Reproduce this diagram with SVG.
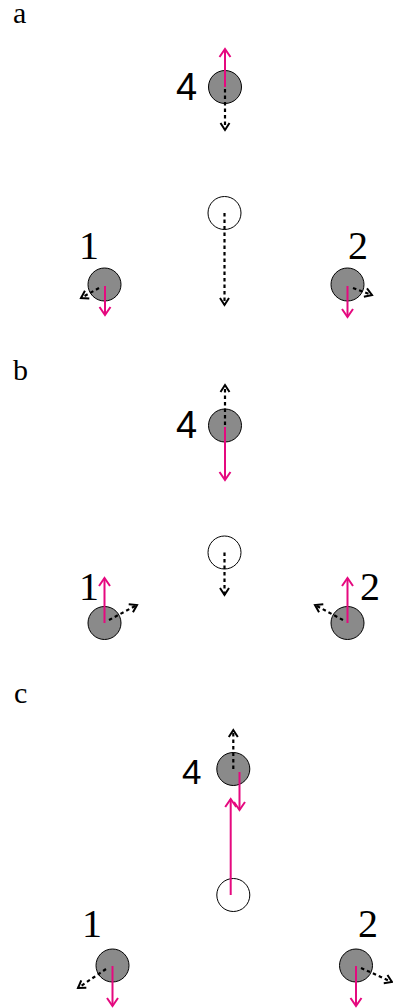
<svg xmlns="http://www.w3.org/2000/svg" width="393" height="1008" viewBox="0 0 393 1008">
<style>
.lbl{font-size:30px;fill:#000}
.num{font-size:40px;fill:#000}
.n4{font-size:38px;fill:#000}
.g{fill:#8a8a8a;stroke:#000;stroke-width:1}
.w{fill:#fff;stroke:#000;stroke-width:1}
.m{stroke:#e5097f;stroke-width:2;fill:none;marker-end:url(#am)}
.d{stroke:#000;stroke-width:2.2;stroke-dasharray:3.5 3;fill:none;marker-end:url(#ad)}
</style>
<defs>
<marker id="am" markerUnits="userSpaceOnUse" markerWidth="12" markerHeight="14" refX="9" refY="6" orient="auto" overflow="visible">
<path d="M1,0.5 L9,6 L1,11.5" fill="none" stroke="#e5097f" stroke-width="2"/>
</marker>
<marker id="ad" markerUnits="userSpaceOnUse" markerWidth="12" markerHeight="14" refX="8" refY="5" orient="auto" overflow="visible">
<path d="M1,0.5 L8,5 L1,9.5" fill="none" stroke="#000" stroke-width="2"/>
</marker>
</defs>
<rect width="393" height="1008" fill="#fff"/>
<g font-family="'Liberation Serif', 'Times New Roman', serif">
<text class="lbl" x="13" y="23">a</text>
<text class="lbl" x="13" y="380">b</text>
<text class="lbl" x="14" y="703">c</text>
</g>

<g id="a4"><circle class="g" cx="225" cy="87" r="16.5"/><text class="n4" font-family="'Liberation Sans', Arial, sans-serif" x="176" y="100">4</text></g>
<g id="a0"><circle class="w" cx="224.5" cy="213" r="16.5"/></g>
<g id="a1"><circle class="g" cx="104.5" cy="284.5" r="16.5"/><text class="num" font-family="'Liberation Serif', 'Times New Roman', serif" x="79" y="259">1</text></g>
<g id="a2"><circle class="g" cx="347.5" cy="284.5" r="16.5"/><text class="num" font-family="'Liberation Serif', 'Times New Roman', serif" x="348" y="259">2</text></g>

<g id="b4"><circle class="g" cx="225" cy="425.5" r="16.5"/><text class="n4" font-family="'Liberation Sans', Arial, sans-serif" x="176" y="438">4</text></g>
<g id="b0"><circle class="w" cx="224.5" cy="552.5" r="16.5"/></g>
<g id="b1"><circle class="g" cx="104.5" cy="623" r="16.5"/><text class="num" font-family="'Liberation Serif', 'Times New Roman', serif" x="79" y="600">1</text></g>
<g id="b2"><circle class="g" cx="347.5" cy="623" r="16.5"/><text class="num" font-family="'Liberation Serif', 'Times New Roman', serif" x="360" y="600">2</text></g>

<g id="c4"><circle class="g" cx="233.3" cy="769" r="16.5"/><text class="n4" font-family="'Liberation Sans', Arial, sans-serif" x="182" y="784" style="font-size:35px">4</text></g>
<g id="c0"><circle class="w" cx="233.3" cy="895" r="16.5"/></g>
<g id="c1"><circle class="g" cx="112.5" cy="965.5" r="16.5"/><text class="num" font-family="'Liberation Serif', 'Times New Roman', serif" x="82" y="937">1</text></g>
<g id="c2"><circle class="g" cx="356" cy="965.5" r="16.5"/><text class="num" font-family="'Liberation Serif', 'Times New Roman', serif" x="358" y="937">2</text></g>

<g id="connectors">
<line class="m" x1="225" y1="87" x2="225" y2="49"/>
<line class="d" x1="225" y1="89" x2="225" y2="130"/>
<line class="d" x1="224.5" y1="213" x2="224.5" y2="305"/>
<line class="m" x1="105" y1="286" x2="105" y2="315"/>
<line class="d" x1="99" y1="288" x2="81" y2="298"/>
<line class="m" x1="347.5" y1="286" x2="347.5" y2="317"/>
<line class="d" x1="353" y1="288" x2="372" y2="295"/>

<line class="d" x1="225" y1="425" x2="225" y2="385"/>
<line class="m" x1="225" y1="427" x2="225" y2="480"/>
<line class="d" x1="224.5" y1="552.5" x2="224.5" y2="595"/>
<line class="m" x1="104.5" y1="623" x2="104.5" y2="578"/>
<line class="d" x1="109" y1="620" x2="137" y2="605"/>
<line class="m" x1="347.5" y1="623" x2="347.5" y2="578"/>
<line class="d" x1="343" y1="620" x2="315" y2="605"/>

<line class="d" x1="233.3" y1="769" x2="233.3" y2="730"/>
<line class="m" x1="239.5" y1="772" x2="239.5" y2="810"/>
<line class="m" x1="230.7" y1="895" x2="230.7" y2="799"/>
<line class="m" x1="112.5" y1="966" x2="112.5" y2="1006"/>
<line class="d" x1="106" y1="969" x2="78" y2="988"/>
<line class="m" x1="356" y1="966" x2="356" y2="1006"/>
<line class="d" x1="361" y1="968" x2="392" y2="982"/>
</g>
</svg>
